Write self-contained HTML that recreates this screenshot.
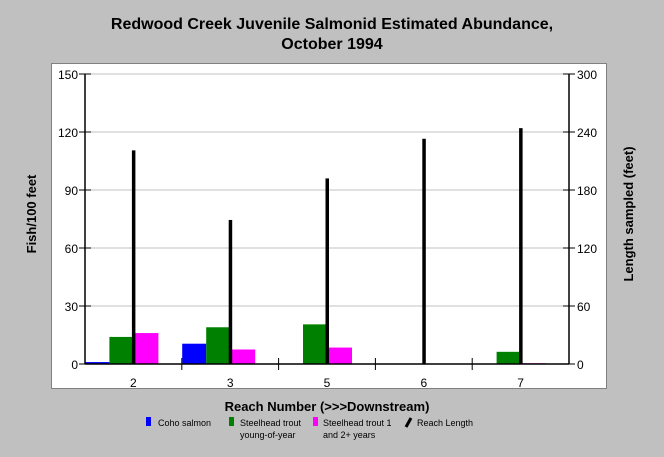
<!DOCTYPE html>
<html><head><meta charset="utf-8"><style>
body{margin:0;background:#c0c0c0;}
svg{display:block;font-family:"Liberation Sans",Arial,sans-serif;}
</style></head><body>
<svg id="chart" width="664" height="457" viewBox="0 0 664 457" xmlns="http://www.w3.org/2000/svg">
<rect x="0" y="0" width="664" height="457" fill="#c0c0c0"/>
<text x="332" y="29" text-anchor="middle" font-size="16" font-weight="bold">Redwood Creek Juvenile Salmonid Estimated Abundance,</text>
<text x="332" y="49" text-anchor="middle" font-size="16" font-weight="bold">October 1994</text>
<rect x="51.5" y="63.5" width="555" height="325" fill="#fff" stroke="#808080"/>
<g id="grid"></g>
<g id="bars"></g>
<g id="axes"></g>
<text transform="translate(36,214) rotate(-90)" text-anchor="middle" font-size="13" font-weight="bold">Fish/100 feet</text>
<text transform="translate(633,214) rotate(-90)" text-anchor="middle" font-size="13" font-weight="bold">Length sampled (feet)</text>
<text x="327" y="411" text-anchor="middle" font-size="13" font-weight="bold">Reach Number (&gt;&gt;&gt;Downstream)</text>
<g font-size="9">
<g><rect x="146" y="417" width="5" height="9" fill="#0000ff"/><text x="158" y="426">Coho salmon</text></g>
<g><rect x="229" y="417" width="5" height="9" fill="#008000"/><text x="240" y="426">Steelhead trout</text><text x="240" y="438">young-of-year</text></g>
<g><rect x="313" y="417" width="5" height="9" fill="#ff00ff"/><text x="323" y="426">Steelhead trout 1</text><text x="323" y="438">and 2+ years</text></g>
<g><path d="M406 427 L411 418" stroke="#000" stroke-width="3"/><text x="417" y="426">Reach Length</text></g>
</g>
</svg>
<script>
const categories = ["2","3","5","6","7"];
const coho = [1, 10.5, 0, 0, 0];
const steelheadYoy = [14, 19, 20.5, 0, 6.3];
const steelheadOlder = [16, 7.5, 8.5, 0, 0.4];
const reachLength = [221, 149, 192, 233, 244];
const leftTicks = [0,30,60,90,120,150];
const rightTicks = [0,60,120,180,240,300];

const NS="http://www.w3.org/2000/svg";
const X0=85, X1=569, Y0=364, Y1=74;
const yL=v=>Y0-(v/150)*(Y0-Y1);
const yR=v=>Y0-(v/300)*(Y0-Y1);
const gw=(X1-X0)/categories.length;
const cx=i=>X0+gw*(i+0.5);
function mk(tag,attrs,parent){const e=document.createElementNS(NS,tag);for(const k in attrs)e.setAttribute(k,attrs[k]);parent.appendChild(e);return e;}
const grid=document.getElementById('grid'),bars=document.getElementById('bars'),axes=document.getElementById('axes');
leftTicks.forEach((t,i)=>{if(t>0){const l=mk('line',{x1:X0,x2:X1,y1:yL(t),y2:yL(t),stroke:'#c0c0c0'},grid);

}
const tk=mk('line',{x1:X0-6,x2:X0+6,y1:yL(t),y2:yL(t),stroke:'#000'},axes);


const tx=mk('text',{x:X0-7,y:yL(t)+5,'text-anchor':'end','font-size':'12'},axes);tx.textContent=t;

});
rightTicks.forEach(t=>{const tk=mk('line',{x1:X1-6,x2:X1+6,y1:yR(t),y2:yR(t),stroke:'#000'},axes);


const tx=mk('text',{x:X1+8,y:yR(t)+5,'font-size':'12'},axes);tx.textContent=t;

});
const series=[[coho,'#0000ff',-48,'bar-coho'],[steelheadYoy,'#008000',-24,'bar-steelhead-yoy'],[steelheadOlder,'#ff00ff',1,'bar-steelhead-older']];
categories.forEach((c,i)=>{
 series.forEach(([arr,col,off,nm])=>{const v=arr[i];if(v<=0)return;const r=mk('rect',{x:cx(i)+off,y:yL(v),width:24,height:Y0-yL(v),fill:col},bars);
 
 });
 const ln=mk('rect',{x:cx(i)-1.5,y:yR(reachLength[i]),width:3.5,height:Y0-yR(reachLength[i]),fill:'#000'},bars);
 
 
 const tx=mk('text',{x:cx(i),y:Y0+23,'text-anchor':'middle','font-size':'12'},axes);tx.textContent=c;
 
 
 if(i>0){const s=mk('line',{x1:X0+gw*i,x2:X0+gw*i,y1:Y0-6,y2:Y0+6,stroke:'#000'},axes);
 
 }
});
[[X0,Y1,X0,Y0],[X1,Y1,X1,Y0],[X0,Y0,X1,Y0]].forEach(a=>{const l=mk('line',{x1:a[0],y1:a[1],x2:a[2],y2:a[3],stroke:'#000','stroke-width':1.5},axes);

});
</script>
</body></html>
